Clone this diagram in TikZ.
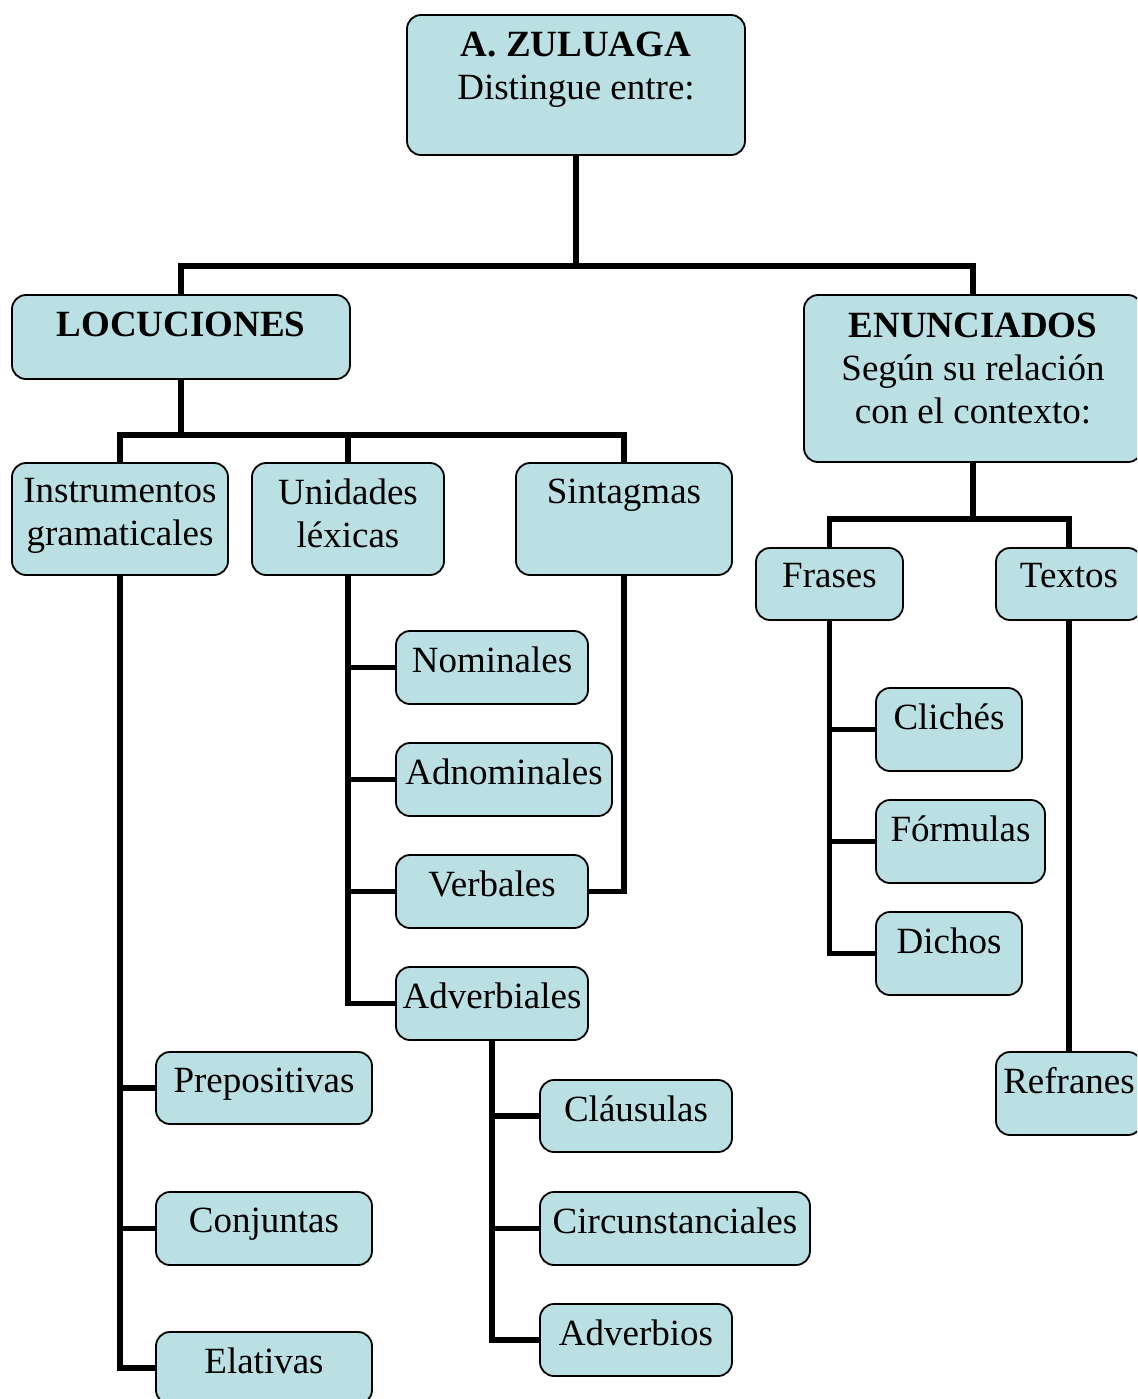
\documentclass[tikz,border=0pt]{standalone}
\usepackage{fontspec}
\setmainfont{Liberation Serif}
\usetikzlibrary{fit,calc,positioning}
\definecolor{cajafondo}{RGB}{187,224,227}

\begin{document}
\begin{tikzpicture}[%
x=0.5pt, y=-0.5pt,
caja/.style={draw=black, line width=0.9pt, fill=cajafondo, rounded corners=7pt, inner sep=0pt},
texto/.style={anchor=north, inner sep=0pt, align=center, font=\fontsize{18.5}{21.5}\selectfont},
rama/.style={line width=2.6pt}
]
\useasboundingbox (0,0) rectangle (1137,1399);
\clip (0,0) rectangle (1137,1399);

% cajas
\node[caja, fit={(407,15) (745,155)}] (zul) {};
\node[caja, fit={(12,295) (350,379)}] (loc) {};
\node[caja, fit={(804,295) (1142,462)}] (enu) {};
\node[caja, fit={(12,463) (228,575)}] (ins) {};
\node[caja, fit={(252,463) (444,575)}] (uni) {};
\node[caja, fit={(516,463) (732,575)}] (sin) {};
\node[caja, fit={(756,548) (903,620)}] (fra) {};
\node[caja, fit={(996,548) (1142,620)}] (tex) {};
\node[caja, fit={(396,631) (588,704)}] (nom) {};
\node[caja, fit={(396,743) (612,816)}] (adn) {};
\node[caja, fit={(396,855) (588,928)}] (ver) {};
\node[caja, fit={(396,967) (588,1040)}] (adv) {};
\node[caja, fit={(156,1052) (372,1124)}] (pre) {};
\node[caja, fit={(156,1192) (372,1265)}] (con) {};
\node[caja, fit={(156,1332) (372,1404)}] (ela) {};
\node[caja, fit={(540,1080) (732,1152)}] (cla) {};
\node[caja, fit={(540,1192) (810,1265)}] (cir) {};
\node[caja, fit={(540,1304) (732,1376)}] (avb) {};
\node[caja, fit={(876,688) (1022,771)}] (cli) {};
\node[caja, fit={(876,800) (1045,883)}] (for) {};
\node[caja, fit={(876,912) (1022,995)}] (dic) {};
\node[caja, fit={(996,1052) (1142,1135)}] (ref) {};

% textos
\node[texto] (zul-t) at ([yshift=-8.5pt]zul.north) {\textbf{A. ZULUAGA}\\Distingue entre:};
\node[texto] (loc-t) at ([yshift=-8.5pt]loc.north) {\textbf{LOCUCIONES}};
\node[texto] (enu-t) at ([yshift=-9pt]enu.north) {\textbf{ENUNCIADOS}\\Según su relación\\con el contexto:};
\node[texto] (ins-t) at ([yshift=-8pt]ins.north) {Instrumentos\\gramaticales};
\node[texto] (uni-t) at ([yshift=-8pt]uni.north) {Unidades\\léxicas};
\node[texto] (sin-t) at ([yshift=-8pt]sin.north) {Sintagmas};
\node[texto] (fra-t) at ([yshift=-8pt]fra.north) {Frases};
\node[texto] (tex-t) at ([yshift=-8pt]tex.north) {Textos};
\node[texto] (nom-t) at ([yshift=-8pt]nom.north) {Nominales};
\node[texto] (adn-t) at ([yshift=-8pt]adn.north) {Adnominales};
\node[texto] (ver-t) at ([yshift=-8pt]ver.north) {Verbales};
\node[texto] (adv-t) at ([yshift=-8pt]adv.north) {Adverbiales};
\node[texto] (pre-t) at ([yshift=-8pt]pre.north) {Prepositivas};
\node[texto] (con-t) at ([yshift=-8pt]con.north) {Conjuntas};
\node[texto] (ela-t) at ([yshift=-8pt]ela.north) {Elativas};
\node[texto] (cla-t) at ([yshift=-8pt]cla.north) {Cláusulas};
\node[texto] (cir-t) at ([yshift=-8pt]cir.north) {Circunstanciales};
\node[texto] (avb-t) at ([yshift=-8pt]avb.north) {Adverbios};
\node[texto] (cli-t) at ([yshift=-8pt]cli.north) {Clichés};
\node[texto] (for-t) at ([yshift=-8pt]for.north) {Fórmulas};
\node[texto] (dic-t) at ([yshift=-8pt]dic.north) {Dichos};
\node[texto] (ref-t) at ([yshift=-8pt]ref.north) {Refranes};

% ramas
\coordinate (j1) at (zul.south |- 0,266);
\coordinate (j2) at (loc.south |- 0,435);
\coordinate (j3) at (enu.south |- 0,519);
\draw[rama] (zul.south) -- (j1) -| (loc.north);
\draw[rama] (j1) -| (enu.north);
\draw[rama] (loc.south) -- (j2) -| (ins.north);
\draw[rama] (j2) -| (uni.north);
\draw[rama] (j2) -| (sin.north);
\draw[rama] (ins.south) |- (pre.west);
\draw[rama] (ins.south) |- (con.west);
\draw[rama] (ins.south) |- (ela.west);
\draw[rama] (uni.south) |- (nom.west);
\draw[rama] (uni.south) |- (adn.west);
\draw[rama] (uni.south) |- (ver.west);
\draw[rama] (uni.south) |- (adv.west);
\draw[rama] (sin.south) |- (ver.east);
\draw[rama] (adv.south) |- (cla.west);
\draw[rama] (adv.south) |- (cir.west);
\draw[rama] (adv.south) |- (avb.west);
\draw[rama] (enu.south) -- (j3) -| (fra.north);
\draw[rama] (j3) -| (tex.north);
\draw[rama] (fra.south) |- (cli.west);
\draw[rama] (fra.south) |- (for.west);
\draw[rama] (fra.south) |- (dic.west);
\draw[rama] (tex.south) -- (ref.north);
\end{tikzpicture}
\end{document}
